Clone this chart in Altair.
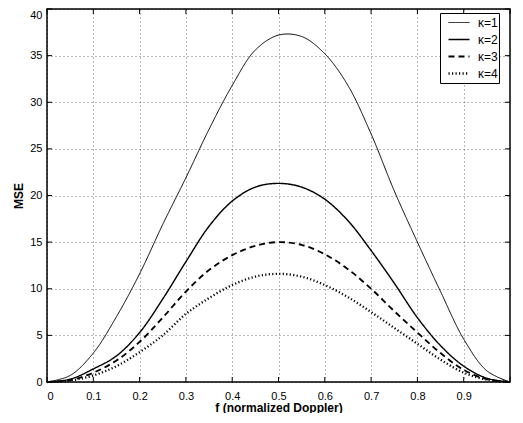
import altair as alt
import pandas as pd

# ---- data ----
f_vals = [0.0, 0.05, 0.1, 0.15, 0.2, 0.25, 0.3, 0.35, 0.4, 0.45, 0.5,
          0.55, 0.6, 0.65, 0.7, 0.75, 0.8, 0.85, 0.9, 0.95, 1.0]
mse_k1 = [0.0, 0.7, 3.1, 7.0, 11.6, 16.9, 21.9, 27.1, 31.8, 35.6, 37.2,
          37.05, 35.2, 31.8, 26.6, 20.5, 15.0, 9.7, 4.6, 1.2, 0.0]
mse_k2 = [0.0, 0.3, 1.4, 2.8, 5.3, 8.9, 12.9, 16.7, 19.4, 20.9, 21.3,
          20.9, 19.6, 17.3, 14.1, 10.6, 6.9, 3.9, 1.7, 0.4, 0.0]
mse_k3 = [0.0, 0.2, 1.0, 2.3, 4.3, 6.9, 9.7, 12.0, 13.6, 14.6, 15.0,
          14.7, 13.7, 12.1, 10.0, 7.6, 5.3, 3.1, 1.3, 0.3, 0.0]
mse_k4 = [0.0, 0.15, 0.7, 1.7, 3.2, 5.0, 7.3, 9.0, 10.4, 11.3, 11.6,
          11.3, 10.4, 9.1, 7.5, 5.8, 4.1, 2.4, 1.0, 0.25, 0.0]
series_labels = ["κ=1", "κ=2", "κ=3", "κ=4"]
x_ticks = [0.0, 0.1, 0.2, 0.3, 0.4, 0.5, 0.6, 0.7, 0.8, 0.9]
x_tick_marks = [0.0, 0.1, 0.2, 0.3, 0.4, 0.5, 0.6, 0.7, 0.8, 0.9, 1.0]
y_ticks = [0, 5, 10, 15, 20, 25, 30, 35, 40]

rows = []
for lab, vals in zip(series_labels, [mse_k1, mse_k2, mse_k3, mse_k4]):
    for f, v in zip(f_vals, vals):
        rows.append({"f": f, "mse": v, "k": lab})
df = pd.DataFrame(rows)
df_xt = pd.DataFrame({"f": x_tick_marks})
df_yt = pd.DataFrame({"mse": y_ticks})

W, H = 463, 373
FONT = "Liberation Sans"
x_scale = alt.Scale(domain=[0, 1], nice=False, zero=False)
y_scale = alt.Scale(domain=[0, 40], nice=False)
x_axis = alt.Axis(values=x_ticks, format="~g", title="f (normalized Doppler)",
                  labelPadding=8, titlePadding=1)
y_axis = alt.Axis(values=y_ticks, title="MSE", labelPadding=5, titlePadding=4,
                  labelBaseline={"condition": {"test": "datum.value == 40",
                                               "value": "top"},
                                 "value": "middle"})

legend = alt.Legend(
    orient="none", legendX=393, legendY=4, title=None,
    strokeColor="black", fillColor="white", padding=1,
    symbolType="stroke", symbolSize=441, clipHeight=17, symbolOffset=6,
    labelFont=FONT, labelFontSize=12, labelColor="black",
    labelOffset=7, rowPadding=0,
    labelExpr="datum.label + '\u00a0\u00a0'",
)

lines = alt.Chart(df).mark_line(interpolate="catmull-rom").encode(
    x=alt.X("f:Q", scale=x_scale, axis=x_axis),
    y=alt.Y("mse:Q", scale=y_scale, axis=y_axis),
    color=alt.Color("k:O", scale=alt.Scale(domain=series_labels,
                                           range=["black"] * 4),
                    legend=legend),
    strokeDash=alt.StrokeDash("k:O", scale=alt.Scale(
        domain=series_labels,
        range=[[1, 0], [1, 0], [6, 4], [1.2, 2.3]]), legend=legend),
    strokeWidth=alt.StrokeWidth("k:O", scale=alt.Scale(
        domain=series_labels, range=[1.0, 2.3, 2.0, 1.2]), legend=legend),
)

rule_style = dict(color="black", strokeWidth=1)
xt_bottom = alt.Chart(df_xt).mark_rule(**rule_style).encode(
    x=alt.X("f:Q", scale=x_scale, axis=x_axis),
    y=alt.value(H), y2=alt.value(H - 5))
xt_top = alt.Chart(df_xt).mark_rule(**rule_style).encode(
    x=alt.X("f:Q", scale=x_scale, axis=x_axis),
    y=alt.value(0), y2=alt.value(5))
yt_left = alt.Chart(df_yt).mark_rule(**rule_style).encode(
    y=alt.Y("mse:Q", scale=y_scale, axis=y_axis),
    x=alt.value(0), x2=alt.value(5))
yt_right = alt.Chart(df_yt).mark_rule(**rule_style).encode(
    y=alt.Y("mse:Q", scale=y_scale, axis=y_axis),
    x=alt.value(W), x2=alt.value(W - 5))

chart = alt.layer(lines, xt_bottom, xt_top, yt_left, yt_right).properties(
    width=W, height=H,
    padding={"left": 4, "top": 0, "right": 0, "bottom": 0},
    background="white",
).configure_view(
    stroke="black", strokeWidth=1.5
).configure_axis(
    grid=True, gridColor="black", gridDash=[1, 3], gridOpacity=0.55,
    gridWidth=1, ticks=False, domain=False,
    labelFont=FONT, labelFontSize=11, labelColor="black",
    titleFont=FONT, titleFontSize=12, titleFontWeight="bold",
    titleColor="black",
)

chart.save("out.html", embed_options={"renderer": "svg", "actions": False})
